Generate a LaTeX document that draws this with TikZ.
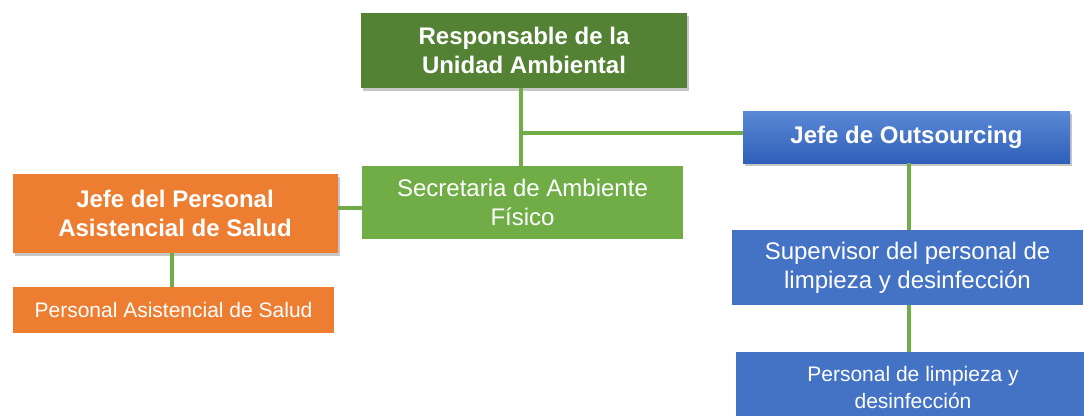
\documentclass[tikz,border=0pt]{standalone}
\usepackage{fontspec}
\setmainfont{Liberation Sans}
\usetikzlibrary{shadows}
\definecolor{darkgreen}{HTML}{548235}
\definecolor{lightgreen}{HTML}{70AD47}
\definecolor{orangebox}{HTML}{ED7D31}
\definecolor{bluebox}{HTML}{4472C4}
\definecolor{bluetop}{HTML}{5B89D6}
\definecolor{bluebottom}{HTML}{2F5FB9}

\begin{document}
\begin{tikzpicture}[x=0.75pt,y=-0.75pt,
  box/.style={rectangle, text=white, align=center, inner sep=0pt},
  big/.style={font=\fontsize{18}{21.75}\selectfont},
  small/.style={font=\fontsize{15.75}{20.25}\selectfont},
  head/.style={drop shadow={shadow xshift=1.5pt,shadow yshift=-2.5pt,opacity=0.45}},
  link/.style={draw=lightgreen, line width=3pt}]
\clip (0,0) rectangle (1084,415);
\node[box,big,head,fill=darkgreen,minimum width=244.5pt,minimum height=56.25pt] (resp) at (524,50.5) {\bfseries Responsable de la\\ \bfseries Unidad Ambiental};
\node[box,big,fill=lightgreen,minimum width=240.75pt,minimum height=54.75pt] (secr) at (522.5,202.5) {Secretaria de Ambiente\\ Físico};
\node[box,big,head,fill=orangebox,minimum width=243.75pt,minimum height=59.25pt] (jefeps) at (175,213.5) {\bfseries Jefe del Personal\\ \bfseries Asistencial de Salud};
\node[box,small,fill=orangebox,minimum width=240.75pt,minimum height=34.5pt] (pas) at (173.5,310) {Personal Asistencial de Salud};
\node[box,big,head,top color=bluetop,bottom color=bluebottom,minimum width=245.25pt,minimum height=39pt] (jefeo) at (906.5,137) {\bfseries Jefe de Outsourcing};
\node[box,big,fill=bluebox,minimum width=263.25pt,minimum height=56.25pt] (sup) at (907.5,267.5) {Supervisor del personal de\\ limpieza y desinfección};
\node[box,small,fill=bluebox,minimum width=265.5pt,minimum height=52.5pt] (plim) at (913,387) {Personal de limpieza y\\ desinfección};

% connectors
\coordinate (trunk) at ([xshift=-2.5pt]resp.south);
\draw[link] (trunk) -- (trunk |- secr.north);
\draw[link] ([yshift=3pt]jefeo.west) -- ([yshift=3pt]jefeo.west -| trunk);
\draw[link] ([yshift=-4pt]secr.west) -- ([yshift=-4pt]secr.west -| jefeps.east);
\draw[link] ([xshift=-2pt]jefeps.south) -- ([xshift=-2pt]jefeps.south |- pas.north);
\draw[link] ([xshift=2pt]jefeo.south) -- ([xshift=2pt]jefeo.south |- sup.north);
\draw[link] ([xshift=1pt]sup.south) -- ([xshift=1pt]sup.south |- plim.north);
\end{tikzpicture}
\end{document}
